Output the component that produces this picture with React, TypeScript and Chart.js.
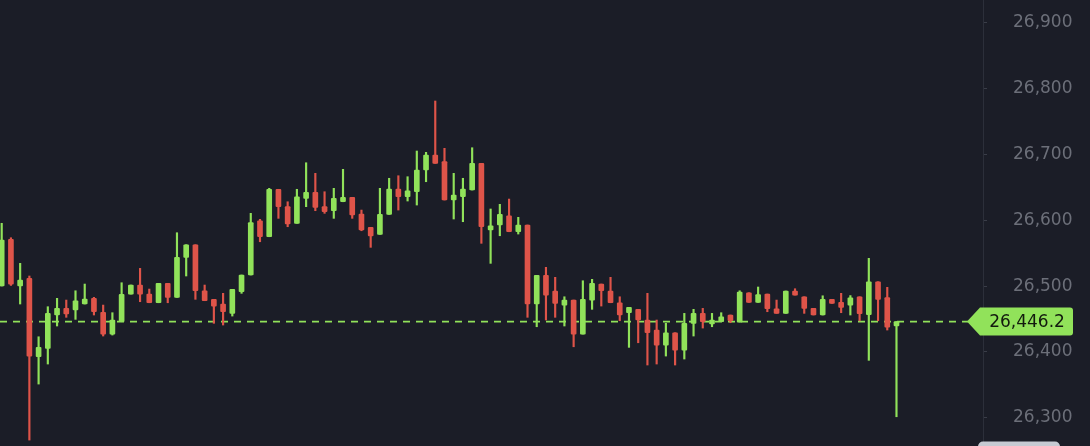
import React, { useEffect, useRef } from "react";
import { Chart, registerables } from "chart.js";

Chart.register(...registerables);

// OHLC candles, oldest to newest
const opens = [
  26500.1, 26571.0, 26500.1, 26511.8, 26392.8, 26405.5, 26456.1, 26466.2, 26463.7, 26472.8,
  26481.4, 26460.2, 26427.2, 26445.9, 26487.9, 26501.6, 26487.9, 26474.7, 26504.2, 26482.9,
  26543.6, 26562.8, 26492.9, 26479.9, 26472.8, 26458.6, 26491.4, 26516.8, 26599.2, 26574.9,
  26646.9, 26620.5, 26595.3, 26633.2, 26642.3, 26620.5, 26614.4, 26628.0, 26634.7, 26609.4,
  26589.2, 26578.6, 26608.9, 26647.3, 26635.6, 26643.2, 26676.2, 26698.9, 26688.8, 26630.6,
  26635.6, 26645.8, 26686.3, 26585.1, 26592.7, 26606.8, 26582.5, 26592.7, 26472.8, 26516.3,
  26492.5, 26471.2, 26478.8, 26427.2, 26478.8, 26503.1, 26492.5, 26474.7, 26459.6, 26464.7,
  26448.5, 26433.3, 26410.5, 26429.2, 26402.9, 26443.5, 26458.6, 26442.4, 26445.9, 26456.1,
  26445.4, 26489.9, 26475.3, 26487.9, 26465.5, 26458.6, 26492.5, 26483.8, 26466.2, 26456.1,
  26479.9, 26475.3, 26471.2, 26483.8, 26456.8, 26506.6, 26482.6, 26439.4,
];
const highs = [
  26595.3, 26573.4, 26534.5, 26515.3, 26423.1, 26468.7, 26481.4, 26478.8, 26492.9, 26503.1,
  26482.9, 26471.2, 26459.6, 26505.1, 26501.6, 26526.9, 26495.5, 26504.2, 26504.2, 26581.0,
  26562.8, 26562.8, 26501.6, 26479.9, 26489.0, 26495.1, 26516.8, 26610.4, 26601.3, 26648.4,
  26646.9, 26628.0, 26646.9, 26687.2, 26671.1, 26643.2, 26648.4, 26677.2, 26634.7, 26615.4,
  26589.2, 26648.4, 26663.6, 26667.5, 26666.0, 26705.0, 26703.0, 26780.9, 26709.1, 26671.1,
  26663.6, 26710.0, 26686.3, 26617.0, 26624.1, 26632.1, 26604.4, 26592.7, 26516.3, 26528.5,
  26513.3, 26483.8, 26478.8, 26508.1, 26510.3, 26503.1, 26513.3, 26483.8, 26467.8, 26464.7,
  26489.0, 26448.5, 26443.5, 26429.2, 26458.6, 26464.7, 26466.2, 26458.6, 26459.6, 26456.1,
  26492.9, 26489.9, 26498.6, 26487.9, 26478.8, 26492.5, 26496.0, 26483.8, 26466.2, 26485.3,
  26479.9, 26489.0, 26485.6, 26483.8, 26542.1, 26506.6, 26498.1, 26446.2,
];
const lows = [
  26500.1, 26501.0, 26472.8, 26266.3, 26351.3, 26381.7, 26439.4, 26452.6, 26449.5, 26472.8,
  26456.1, 26424.2, 26425.7, 26445.9, 26487.9, 26476.3, 26474.7, 26474.7, 26474.7, 26482.9,
  26515.3, 26479.9, 26477.8, 26443.5, 26440.9, 26454.5, 26489.0, 26516.8, 26567.3, 26574.9,
  26602.8, 26590.1, 26595.3, 26620.5, 26614.4, 26610.4, 26602.8, 26628.0, 26602.8, 26584.0,
  26558.8, 26578.6, 26608.9, 26615.4, 26629.1, 26623.0, 26658.4, 26686.3, 26630.6, 26601.8,
  26597.7, 26645.8, 26564.9, 26534.5, 26576.4, 26582.5, 26579.0, 26452.6, 26438.3, 26448.5,
  26452.6, 26439.4, 26407.9, 26427.2, 26464.7, 26469.7, 26474.7, 26447.4, 26407.0, 26414.0,
  26380.2, 26381.7, 26393.8, 26380.2, 26389.3, 26424.2, 26436.3, 26438.3, 26445.9, 26444.4,
  26445.4, 26475.3, 26475.3, 26461.1, 26458.6, 26458.6, 26486.4, 26458.6, 26456.1, 26456.1,
  26473.8, 26459.6, 26456.1, 26447.3, 26387.3, 26447.4, 26433.3, 26301.7,
];
const closes = [
  26569.9, 26503.1, 26509.2, 26393.8, 26407.0, 26458.6, 26466.2, 26457.6, 26477.8, 26480.3,
  26461.1, 26427.2, 26448.5, 26487.5, 26501.6, 26487.9, 26474.7, 26504.2, 26482.9, 26543.6,
  26562.8, 26492.9, 26477.8, 26469.7, 26461.1, 26495.1, 26516.8, 26596.2, 26574.9, 26646.9,
  26620.5, 26594.2, 26635.6, 26642.3, 26619.5, 26612.9, 26633.2, 26634.7, 26607.9, 26585.1,
  26576.0, 26608.9, 26647.3, 26635.6, 26644.7, 26676.2, 26698.9, 26686.3, 26630.6, 26638.2,
  26647.3, 26686.3, 26590.1, 26591.6, 26608.9, 26582.5, 26592.7, 26472.8, 26516.3, 26486.4,
  26473.8, 26478.8, 26427.2, 26479.9, 26504.2, 26492.9, 26474.7, 26456.1, 26467.8, 26448.5,
  26429.2, 26410.5, 26429.2, 26402.9, 26443.5, 26458.6, 26445.9, 26448.5, 26453.5, 26447.4,
  26491.0, 26475.3, 26487.2, 26465.9, 26458.6, 26492.5, 26486.4, 26466.2, 26456.1, 26479.9,
  26473.8, 26467.8, 26482.3, 26458.3, 26506.6, 26479.9, 26437.8, 26446.2,
];

const yTicks = [26300, 26400, 26500, 26600, 26700, 26800, 26900];
const lastPrice = 26446.2;
const lastPriceLabel = "26,446.2";

const BG = "#1b1d27";
const GREEN = "#91e25a";
const RED = "#df5449";
const TICK_TEXT = "#6c6f79";

export default function App() {
  const ref = useRef<HTMLCanvasElement>(null);

  useEffect(() => {
    document.body.style.margin = "0";
    document.body.style.background = BG;
    const idx = closes.map((_, i) => i);
    const colors = idx.map((i) => (closes[i] >= opens[i] ? GREEN : RED));

    const bgPlugin = {
      id: "bg",
      beforeDraw(chart: any) {
        const c = chart.ctx;
        c.save();
        c.fillStyle = BG;
        c.fillRect(0, 0, chart.width, chart.height);
        c.restore();
      },
    };

    const pricePlugin = {
      id: "priceLine",
      beforeDatasetsDraw(chart: any) {
        const c = chart.ctx;
        const py = chart.scales.y.getPixelForValue(lastPrice);
        c.save();
        c.strokeStyle = GREEN;
        c.lineWidth = 1.8;
        c.setLineDash([7, 6]);
        c.beginPath();
        c.moveTo(0, py);
        c.lineTo(968, py);
        c.stroke();
        c.restore();
      },
      afterDraw(chart: any) {
        const c = chart.ctx;
        const py = chart.scales.y.getPixelForValue(lastPrice);
        const tip = 967;
        const bx = 980;
        const right = 1073;
        const h = 14;
        const r = 3;
        c.save();
        c.fillStyle = GREEN;
        c.beginPath();
        c.moveTo(tip, py);
        c.lineTo(bx, py - h);
        c.lineTo(right - r, py - h);
        c.arcTo(right, py - h, right, py - h + r, r);
        c.lineTo(right, py + h - r);
        c.arcTo(right, py + h, right - r, py + h, r);
        c.lineTo(bx, py + h);
        c.closePath();
        c.fill();
        c.fillStyle = "#121a0e";
        c.font = '17px "DejaVu Sans"';
        c.textAlign = "center";
        c.textBaseline = "middle";
        c.fillText(lastPriceLabel, 1027, py + 1);
        // partially visible element at bottom right
        c.fillStyle = "#c6cad2";
        c.beginPath();
        c.roundRect(978, 441.5, 82, 20, 5);
        c.fill();
        c.restore();
      },
    };

    const chart = new Chart(ref.current as HTMLCanvasElement, {
      type: "bar",
      data: {
        datasets: [
          {
            label: "wick",
            data: idx.map((i) => ({ x: i, y: [lows[i], highs[i]] })) as any,
            backgroundColor: colors,
            barThickness: 1.5,
            grouped: false,
            order: 2,
          } as any,
          {
            label: "body",
            data: idx.map((i) => ({ x: i, y: [opens[i], closes[i]] })) as any,
            backgroundColor: colors,
            barThickness: 5,
            grouped: false,
            minBarLength: 2,
            borderRadius: 1,
            borderSkipped: false,
            order: 1,
          } as any,
        ],
      },
      options: {
        animation: false,
        responsive: false,
        devicePixelRatio: 1,
        layout: { padding: 0 },
        plugins: {
          legend: { display: false },
          tooltip: { enabled: false },
        },
        scales: {
          x: {
            type: "linear",
            display: false,
            offset: false,
            min: -0.1843,
            max: 106.378,
          },
          y: {
            position: "right",
            min: 26257.3,
            max: 26934.2,
            afterFit: (s: any) => {
              s.width = 107;
              s.paddingTop = 0;
              s.paddingBottom = 0;
            },
            afterBuildTicks: (s: any) => {
              s.ticks = yTicks.map((v) => ({ value: v }));
            },
            grid: {
              drawOnChartArea: false,
              drawTicks: true,
              tickLength: 4,
              color: "#3a3d48",
            },
            border: { color: "#2c2f3a" },
            ticks: {
              color: TICK_TEXT,
              padding: 26,
              font: { family: "DejaVu Sans", size: 17 },
              callback: (v: any) => Number(v).toLocaleString("en-US"),
            },
          },
        },
      } as any,
      plugins: [bgPlugin, pricePlugin],
    });
    return () => chart.destroy();
  }, []);

  return (
    <div style={{ width: 1090, height: 446, background: BG }}>
      <canvas ref={ref} width={1090} height={446} style={{ display: "block" }} />
    </div>
  );
}
